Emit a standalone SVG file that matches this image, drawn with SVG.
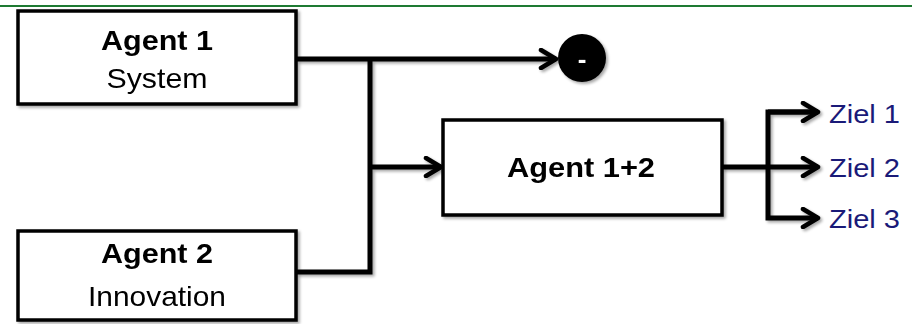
<svg xmlns="http://www.w3.org/2000/svg" width="919" height="324" viewBox="0 0 919 324">
<defs>
<filter id="sh" x="-10%" y="-10%" width="130%" height="130%">
<feGaussianBlur in="SourceAlpha" stdDeviation="1.5"/>
<feOffset dx="2" dy="2" result="b"/>
<feComponentTransfer><feFuncA type="linear" slope="0.35"/></feComponentTransfer>
<feMerge><feMergeNode/><feMergeNode in="SourceGraphic"/></feMerge>
</filter>
<marker id="arr" viewBox="0 0 22 22" refX="19" refY="11" markerWidth="22" markerHeight="22" markerUnits="userSpaceOnUse" orient="auto">
<path d="M4,2 L19,11 L4,20" fill="none" stroke="#000" stroke-width="4.5" stroke-linecap="round" stroke-linejoin="round"/>
</marker>
</defs>
<style>
.box{fill:#fff;stroke:#000;stroke-width:3.5}
.t{font-family:"Liberation Sans",Arial,sans-serif;font-size:28px;fill:#000;text-anchor:middle}
.b{font-weight:bold}
.ln{fill:none;stroke:#000;stroke-width:5;stroke-linejoin:miter}
.z{font-family:"Liberation Sans",Arial,sans-serif;font-size:26px;fill:#1a1a78}
</style>
<rect x="0" y="0" width="919" height="324" fill="#fff"/>
<line x1="0" y1="6" x2="912" y2="6" stroke="#1e7a32" stroke-width="2"/>
<g id="connectors" filter="url(#sh)">
<path class="ln" d="M297,59 H556" marker-end="url(#arr)"/>
<path class="ln" d="M370,59 V272 H297"/>
<path class="ln" d="M370,167 H441" marker-end="url(#arr)"/>
<path class="ln" d="M722,167 H768"/>
<path class="ln" d="M818,112 H768 V218 H818" marker-end="url(#arr)"/>
<path class="ln" d="M768,167 H818" marker-end="url(#arr)"/>
<path class="ln" d="M768,112 H818" marker-end="url(#arr)"/>
</g>
<g id="agent1" filter="url(#sh)">
<rect class="box" x="18" y="11" width="278" height="93"/>
<text class="t b" x="157" y="50" textLength="112" lengthAdjust="spacingAndGlyphs">Agent 1</text>
<text class="t" x="157" y="88" textLength="101" lengthAdjust="spacingAndGlyphs">System</text>
</g>
<g id="agent2" filter="url(#sh)">
<rect class="box" x="18" y="231" width="278" height="89"/>
<text class="t b" x="157" y="263" textLength="112" lengthAdjust="spacingAndGlyphs">Agent 2</text>
<text class="t" x="157" y="306" textLength="138" lengthAdjust="spacingAndGlyphs">Innovation</text>
</g>
<g id="minus" filter="url(#sh)">
<circle cx="582" cy="58" r="24" fill="#000"/>
<text x="582" y="68" font-family="Liberation Sans,Arial,sans-serif" font-size="26" font-weight="bold" fill="#fff" text-anchor="middle">-</text>
</g>
<g id="agent12" filter="url(#sh)">
<rect class="box" x="443" y="120" width="279" height="95"/>
<text class="t b" x="581" y="177" textLength="148" lengthAdjust="spacingAndGlyphs">Agent 1+2</text>
</g>
<g id="ziel1"><text class="z" x="829" y="123" textLength="71" lengthAdjust="spacingAndGlyphs">Ziel 1</text></g>
<g id="ziel2"><text class="z" x="829" y="177" textLength="71" lengthAdjust="spacingAndGlyphs">Ziel 2</text></g>
<g id="ziel3"><text class="z" x="829" y="228" textLength="71" lengthAdjust="spacingAndGlyphs">Ziel 3</text></g>
</svg>
